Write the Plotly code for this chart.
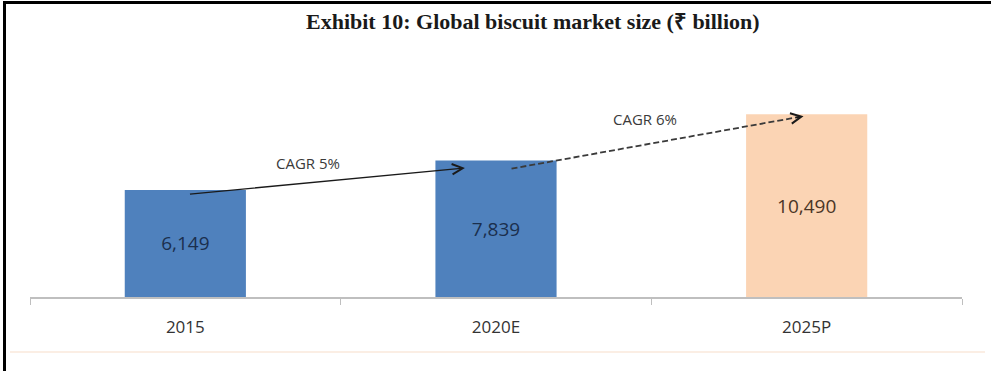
import plotly.graph_objects as go

categories = ["2015", "2020E", "2025P"]
values = [6149, 7839, 10490]
bar_colors = ["#4f81bd", "#4f81bd", "#fbd4b4"]
label_colors = ["#1b2f4d", "#1b2f4d", "#4a3526"]
cagr_labels = ["CAGR 5%", "CAGR 6%"]

W, H = 991, 371
L, R, T, B = 30, 29, 88, 74
PW, PH = W - L - R, H - T - B

def px_x(px):
    return (px - L) / PW

def px_y(py):
    return (H - B - py) / PH

fig = go.Figure()
fig.add_trace(go.Bar(
    x=categories, y=values, marker=dict(color=bar_colors, line=dict(width=0)),
    width=0.39,
    texttemplate="%{y:,}", textposition="inside", insidetextanchor="middle",
    textfont=dict(family="Open Sans", size=19, color=label_colors),
    hoverinfo="skip",
))

# solid arrow 2015 -> 2020E
x0, y0 = 0.01, values[0] * 0.96
x1, y1 = 0.9, values[1] * 0.945
fig.add_annotation(x=x1, y=y1, ax=x0, ay=y0, xref="x", yref="y", axref="x", ayref="y",
                   showarrow=True, arrowhead=5, arrowsize=1.6, arrowwidth=1.3,
                   arrowcolor="#1a1a1a", text="")
fig.add_annotation(x=(x0 + x1) / 2 - 0.06, y=(y0 + y1) / 2 + 1050, xref="x", yref="y",
                   text=cagr_labels[0], showarrow=False,
                   font=dict(family="Open Sans", size=15, color="#3a3a3a"))

# dashed arrow 2020E -> 2025P
x2, y2 = 1.05, values[1] * 0.94
x3, y3 = 1.99, values[2] * 0.99
slope = (y3 - y2) / (x3 - x2)
fig.add_shape(type="line", x0=x2, y0=y2, x1=x3 - 0.01, y1=y3 - slope * 0.01,
              xref="x", yref="y", line=dict(color="#3a3a3a", width=1.8, dash="6px,3px"))
fig.add_annotation(x=x3, y=y3, ax=x3 - 0.03, ay=y3 - slope * 0.03,
                   xref="x", yref="y", axref="x", ayref="y",
                   showarrow=True, arrowhead=5, arrowsize=1.6, arrowwidth=1.3,
                   arrowcolor="#1a1a1a", text="")
fig.add_annotation(x=(x2 + x3) / 2 - 0.04, y=(y2 + y3) / 2 + 1350, xref="x", yref="y",
                   text=cagr_labels[1], showarrow=False,
                   font=dict(family="Open Sans", size=15, color="#3a3a3a"))

# title
fig.add_annotation(x=px_x(533), y=px_y(22), xref="paper", yref="paper",
                   xanchor="center", yanchor="middle",
                   text="<b>Exhibit 10: Global biscuit market size (₹ billion)</b>",
                   showarrow=False,
                   font=dict(family="Liberation Serif", size=22, color="#1a1a1a"))

# frame lines and bottom faint line
fig.add_shape(type="line", xref="paper", yref="paper", x0=px_x(3), x1=px_x(992),
              y0=px_y(2.5), y1=px_y(2.5), line=dict(color="black", width=3), layer="above")
fig.add_shape(type="line", xref="paper", yref="paper", x0=px_x(4.5), x1=px_x(4.5),
              y0=px_y(1), y1=px_y(372), line=dict(color="black", width=3), layer="above")
fig.add_shape(type="line", xref="paper", yref="paper", x0=px_x(10), x1=px_x(985),
              y0=px_y(352), y1=px_y(352), line=dict(color="#fbeee4", width=2))

fig.update_layout(
    width=W, height=H,
    margin=dict(l=L, r=R, t=T, b=B),
    paper_bgcolor="white", plot_bgcolor="white",
    showlegend=False,
    xaxis=dict(type="category", range=[-0.5, 2.5], showline=True, linecolor="#bfbfbf",
               linewidth=1.5, ticks="outside", tickson="boundaries", tickcolor="#bfbfbf",
               ticklen=6, ticklabelstandoff=14,
               tickfont=dict(family="Open Sans", size=17, color="#333333"),
               showgrid=False, zeroline=False),
    yaxis=dict(range=[0, 12000], visible=False, showgrid=False, zeroline=False),
)
fig.write_html("out.html", config={"displayModeBar": False},
               post_script="document.body.style.margin='0px';document.body.style.overflow='hidden';")
